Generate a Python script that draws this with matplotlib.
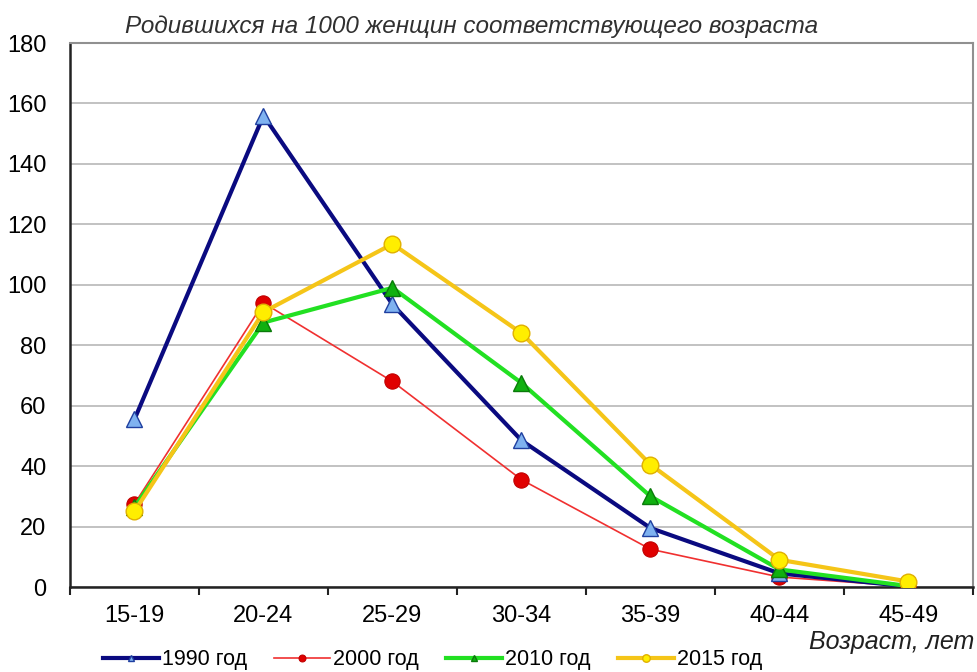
import numpy as np
import matplotlib.pyplot as plt

# ── Data (births per 1000 women of the age group) ─────────────────────────────
AGE_GROUPS = ['15-19', '20-24', '25-29', '30-34', '35-39', '40-44', '45-49']
Y1990 = [55.5, 156.0, 93.5, 48.5, 19.5, 4.5, 0.2]
Y2000 = [27.5, 94.0, 68.0, 35.5, 12.5, 3.3, 0.2]
Y2010 = [26.5, 87.5, 99.0, 67.5, 30.0, 5.8, 0.3]
Y2015 = [25.0, 91.0, 113.5, 84.0, 40.5, 9.0, 1.8]
Y_TICKS = [0, 20, 40, 60, 80, 100, 120, 140, 160, 180]

plt.rcParams['font.family'] = ['Liberation Sans', 'DejaVu Sans']

fig = plt.figure(figsize=(9.78, 6.72), dpi=100)
ax = fig.add_axes([70 / 978, 85 / 672, 903 / 978, 544 / 672])

x = np.arange(len(AGE_GROUPS))

ax.plot(x, Y1990, color='#0a0a80', lw=3, marker='^', ms=11,
        mfc='#7fb2f0', mec='#1f3fa0', mew=1.0, label='1990 год', zorder=4)
ax.plot(x, Y2000, color='#f03030', lw=1.2, marker='o', ms=11,
        mfc='#e00000', mec='#c00000', mew=0.8, label='2000 год', zorder=3)
ax.plot(x, Y2010, color='#22e022', lw=3, marker='^', ms=11,
        mfc='#10b010', mec='#0a7a0a', mew=1.0, label='2010 год', zorder=5)
ax.plot(x, Y2015, color='#f5c518', lw=3, marker='o', ms=12,
        mfc='#ffee00', mec='#e0b000', mew=1.0, label='2015 год', zorder=6)

ax.set_xlim(-0.5, len(AGE_GROUPS) - 0.5)
ax.set_ylim(0, 180)
ax.set_yticks(Y_TICKS)
ax.set_xticks(x)
ax.set_xticklabels(AGE_GROUPS)
ax.set_xticks(np.arange(len(AGE_GROUPS) + 1) - 0.5, minor=True)

ax.tick_params(axis='y', length=0, pad=17, labelsize=17)
ax.tick_params(axis='x', which='major', length=0, pad=13, labelsize=17)
ax.tick_params(axis='x', which='minor', length=6, width=1.5, direction='out',
               color='#222222')

ax.grid(axis='y', color='#b8b8b8', lw=1.2)
ax.set_axisbelow(True)
for side in ['top', 'right']:
    ax.spines[side].set_color('#909090')
    ax.spines[side].set_linewidth(1.5)
for side in ['left', 'bottom']:
    ax.spines[side].set_color('#222222')
    ax.spines[side].set_linewidth(1.8)

fig.text(125 / 978, 1 - 26 / 672,
         'Родившихся на 1000 женщин соответствующего возраста',
         fontsize=17.5, style='italic', color='#303030', va='center', ha='left')
fig.text(974 / 978, 1 - 642 / 672, 'Возраст, лет', fontsize=18,
         style='italic', color='#202020', va='center', ha='right')

fig.legend(loc='center left', bbox_to_anchor=(103 / 978, 1 - 660 / 672), ncol=4,
           frameon=False, fontsize=15.5, markerscale=0.45, handlelength=2.6,
           handletextpad=0.15, columnspacing=1.25, borderpad=0,
           borderaxespad=0)

fig.savefig('out.png', dpi=100)
